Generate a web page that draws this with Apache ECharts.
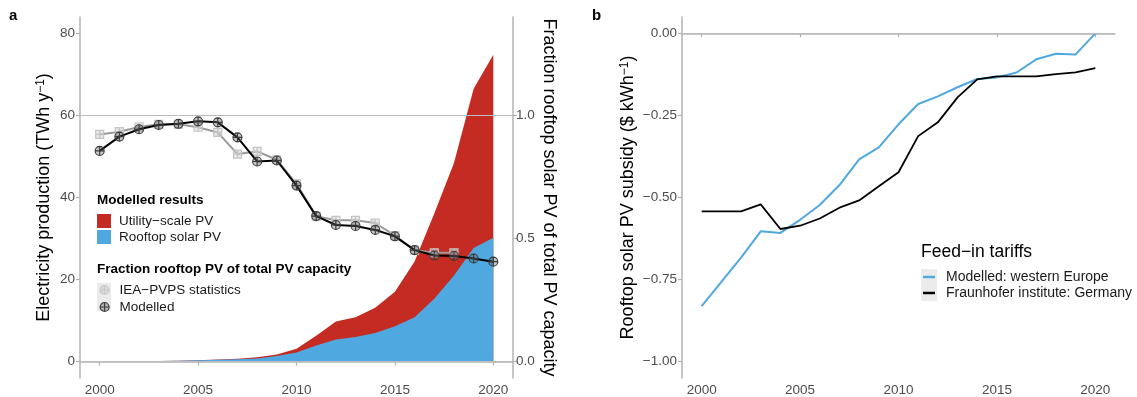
<!DOCTYPE html>
<html>
<head>
<meta charset="utf-8">
<script src="https://cdn.jsdelivr.net/npm/echarts@6/dist/echarts.min.js"></script>
<style>
html,body{margin:0;padding:0;background:#fff;}
#chart{width:1137px;height:397px;}
</style>
</head>
<body>
<div id="chart"></div>
<script>
// ---- data ----
const years = [2000,2001,2002,2003,2004,2005,2006,2007,2008,2009,2010,2011,2012,2013,2014,2015,2016,2017,2018,2019,2020];
const rooftopTWh = [0.05,0.07,0.1,0.12,0.18,0.3,0.45,0.55,0.75,1.35,2.2,3.9,5.4,6.0,7.0,8.6,10.8,15.3,21.0,27.7,30.2];
const utilityTWh = [0,0,0,0.01,0.02,0.02,0.05,0.15,0.3,0.4,0.9,2.4,4.4,4.8,6.1,8.4,13.6,20.8,27.4,38.8,44.6];
const fracIEA = [0.923,0.934,0.953,0.964,0.964,0.952,0.931,0.843,0.854,0.820,0.722,0.591,0.574,0.574,0.563,0.512,0.453,0.442,0.442,null,null];
const fracModelled = [0.856,0.914,0.944,0.961,0.966,0.976,0.972,0.911,0.813,0.817,0.715,0.591,0.555,0.551,0.535,0.509,0.453,0.431,0.429,0.419,0.406];
const subsidyModelled = [-0.831,-0.757,-0.683,-0.603,-0.608,-0.568,-0.523,-0.462,-0.384,-0.347,-0.277,-0.215,-0.192,-0.164,-0.139,-0.134,-0.119,-0.079,-0.062,-0.064,0.0];
const subsidyFraunhofer = [-0.542,-0.542,-0.542,-0.521,-0.596,-0.586,-0.564,-0.531,-0.509,-0.466,-0.423,-0.313,-0.271,-0.195,-0.140,-0.131,-0.131,-0.131,-0.124,-0.119,-0.106];
const tickYears = [2000,2005,2010,2015,2020];
const tickEnergy = [0,20,40,60,80];
const tickFraction = [0,0.5,1];
const tickSubsidy = [-1,-0.75,-0.5,-0.25,0];

// ---- helpers ----
const pairs = arr => years.map((y,i) => [y, arr[i]]);
const totalTWh = rooftopTWh.map((v,i) => v + utilityTWh[i]);
const FONT = '"Liberation Sans", Arial, Helvetica, sans-serif';
const AX = '#b3b3b3';
const RED = '#c42b22';
const BLUE = '#4fa8df';
const circlePlus = 'path://M0,-5A5,5 0 1,1 0,5A5,5 0 1,1 0,-5ZM-5,0L5,0M0,-5L0,5';
const squarePlus = 'path://M-5,-5L5,-5L5,5L-5,5ZM-5,0L5,0M0,-5L0,5';
const fmtMinus = (v, d) => (v < -1e-9 ? '\u2212' : '') + Math.abs(v).toFixed(d);

const xAxisBase = (gi) => ({
  type: 'value', gridIndex: gi, min: 1999, max: 2021,
  axisLine: {show: true, lineStyle: {color: AX, width: 1.5}},
  axisTick: {show: true, length: 4, customValues: tickYears, lineStyle: {color: AX, width: 1.2}},
  axisLabel: {customValues: tickYears, color: '#4d4d4d', fontSize: 13.5, fontFamily: FONT, margin: 5,
              formatter: v => String(Math.round(v))},
  splitLine: {show: false}
});

const nameStyle = {
  fontSize: 18, fontFamily: FONT, color: '#000',
  rich: {
    t: {fontSize: 18, fontFamily: FONT, color: '#000'},
    s: {fontSize: 12, fontFamily: FONT, color: '#000', verticalAlign: 'top', padding: [0,0,6,0]}
  }
};

const chart = echarts.init(document.getElementById('chart'), null, {renderer: 'canvas'});

const option = {
  animation: false,
  backgroundColor: '#fff',
  textStyle: {fontFamily: FONT},
  grid: [
    {left: 80, top: 17, width: 433, height: 364, containLabel: false},
    {left: 682, top: 17, width: 433, height: 364, containLabel: false}
  ],
  xAxis: [xAxisBase(0), xAxisBase(1)],
  yAxis: [
    {
      type: 'value', gridIndex: 0, position: 'left', min: -4, max: 84,
      name: '{t|Electricity production (TWh y}{s|\u22121}{t|)}',
      nameLocation: 'middle', nameGap: 27, nameRotate: 90, nameTextStyle: nameStyle,
      axisLine: {show: true, lineStyle: {color: AX, width: 1.5}},
      axisTick: {show: true, length: 4, customValues: tickEnergy, lineStyle: {color: AX, width: 1.2}},
      axisLabel: {customValues: tickEnergy, color: '#4d4d4d', fontSize: 13.5, fontFamily: FONT, margin: 5},
      splitLine: {show: false}
    },
    {
      type: 'value', gridIndex: 0, position: 'right', min: -4/60, max: 84/60,
      name: 'Fraction rooftop solar PV of total PV capacity',
      nameLocation: 'middle', nameGap: 27, nameRotate: -90,
      nameTextStyle: {fontSize: 18, fontFamily: FONT, color: '#000'},
      axisLine: {show: true, lineStyle: {color: AX, width: 1.5}},
      axisTick: {show: true, length: 4, customValues: tickFraction, lineStyle: {color: AX, width: 1.2}},
      axisLabel: {customValues: tickFraction, color: '#4d4d4d', fontSize: 13.5, fontFamily: FONT, margin: 3,
                  formatter: v => v.toFixed(1)},
      splitLine: {show: false}
    },
    {
      type: 'value', gridIndex: 1, position: 'left', min: -1.05, max: 0.05,
      name: '{t|Rooftop solar PV subsidy ($ kWh}{s|\u22121}{t|)}',
      nameLocation: 'middle', nameGap: 45, nameRotate: 90, nameTextStyle: nameStyle,
      axisLine: {show: true, lineStyle: {color: AX, width: 1.5}},
      axisTick: {show: true, length: 4, customValues: tickSubsidy, lineStyle: {color: AX, width: 1.2}},
      axisLabel: {customValues: tickSubsidy, color: '#4d4d4d', fontSize: 13.5, fontFamily: FONT, margin: 5,
                  formatter: v => fmtMinus(v, 2)},
      splitLine: {show: false}
    }
  ],
  legend: [
    {
      orient: 'vertical', left: 97, top: 213, padding: 0, itemGap: 0,
      itemWidth: 14, itemHeight: 14, icon: 'rect',
      textStyle: {fontSize: 13.5, fontFamily: FONT, color: '#1a1a1a', lineHeight: 14, padding: [2,0,0,3]},
      data: [
        {name: 'Utility\u2212scale PV', itemStyle: {color: RED}},
        {name: 'Rooftop solar PV', itemStyle: {color: BLUE}}
      ],
      selectedMode: false
    },
    {
      orient: 'vertical', left: 99.5, top: 283, padding: 0, itemGap: 3,
      itemWidth: 9, itemHeight: 9,
      textStyle: {fontSize: 13.5, fontFamily: FONT, color: '#1a1a1a', lineHeight: 9, padding: [0,0,0,5.5]},
      data: [
        {name: 'IEA\u2212PVPS statistics', icon: circlePlus,
         itemStyle: {color: 'rgba(200,200,200,0.5)', borderColor: '#c8c8c8', borderWidth: 1.2}},
        {name: 'Modelled', icon: circlePlus,
         itemStyle: {color: 'rgba(90,90,90,0.4)', borderColor: '#404040', borderWidth: 1.2}}
      ],
      selectedMode: false
    },
    {
      orient: 'vertical', left: 923, top: 269, padding: 0, itemGap: 0,
      itemWidth: 12, itemHeight: 2.5,
      textStyle: {fontSize: 14, fontFamily: FONT, color: '#1a1a1a', lineHeight: 16, padding: [0,0,0,6]},
      data: [
        {name: 'Modelled: western Europe', icon: 'rect', itemStyle: {color: BLUE, borderWidth: 0}},
        {name: 'Fraunhofer institute: Germany', icon: 'rect', itemStyle: {color: '#000', borderWidth: 0}}
      ],
      selectedMode: false
    }
  ],
  graphic: [
    {type: 'text', left: 9, top: 8, z: 10, style: {text: 'a', font: 'bold 15px ' + FONT, fill: '#000'}},
    {type: 'text', left: 592, top: 8, z: 10, style: {text: 'b', font: 'bold 15px ' + FONT, fill: '#000'}},
    {type: 'text', left: 97, top: 193, z: 10, style: {text: 'Modelled results', font: 'bold 13.5px ' + FONT, fill: '#000'}},
    {type: 'text', left: 97, top: 262, z: 10, style: {text: 'Fraction rooftop PV of total PV capacity', font: 'bold 13.5px ' + FONT, fill: '#000'}},
    {type: 'rect', left: 97, top: 283, z: 0, shape: {width: 14, height: 28}, style: {fill: '#ebebeb'}},
    {type: 'text', left: 921, top: 243, z: 10, style: {text: 'Feed\u2212in tariffs', font: '17.5px ' + FONT, fill: '#000'}},
    {type: 'rect', left: 921, top: 269, z: 0, shape: {width: 16, height: 32}, style: {fill: '#ebebeb'}}
  ],
  series: [
    {
      name: 'Utility\u2212scale PV', type: 'line', xAxisIndex: 0, yAxisIndex: 0,
      data: pairs(totalTWh), symbol: 'none', color: RED,
      lineStyle: {width: 0}, areaStyle: {color: RED, opacity: 1}, z: 1,
      markLine: {
        silent: true, symbol: 'none', label: {show: false},
        lineStyle: {color: '#bdbdbd', width: 1.2, type: 'solid'},
        data: [{yAxis: 60}, {yAxis: 0}]
      }
    },
    {
      name: 'Rooftop solar PV', type: 'line', xAxisIndex: 0, yAxisIndex: 0,
      data: pairs(rooftopTWh), symbol: 'none', color: BLUE,
      lineStyle: {width: 0}, areaStyle: {color: BLUE, opacity: 1}, z: 2
    },
    {
      name: 'IEA\u2212PVPS statistics', type: 'line', xAxisIndex: 0, yAxisIndex: 1,
      data: pairs(fracIEA), color: '#9a9a9a',
      lineStyle: {color: '#9a9a9a', width: 2}, symbol: squarePlus, symbolSize: 8,
      itemStyle: {color: 'rgba(210,210,210,0.5)', borderColor: '#c4c4c4', borderWidth: 1.2}, z: 3
    },
    {
      name: 'Modelled', type: 'line', xAxisIndex: 0, yAxisIndex: 1,
      data: pairs(fracModelled), color: '#000',
      lineStyle: {color: '#000', width: 2}, symbol: circlePlus, symbolSize: 9,
      itemStyle: {color: 'rgba(90,90,90,0.35)', borderColor: '#3a3a3a', borderWidth: 1.1}, z: 4
    },
    {
      name: 'Modelled: western Europe', type: 'line', xAxisIndex: 1, yAxisIndex: 2,
      data: pairs(subsidyModelled), symbol: 'none', color: BLUE,
      lineStyle: {color: BLUE, width: 2},
      markLine: {
        silent: true, symbol: 'none', label: {show: false},
        lineStyle: {color: '#bdbdbd', width: 1.2, type: 'solid'},
        data: [{yAxis: 0}]
      }
    },
    {
      name: 'Fraunhofer institute: Germany', type: 'line', xAxisIndex: 1, yAxisIndex: 2,
      data: pairs(subsidyFraunhofer), symbol: 'none', color: '#000',
      lineStyle: {color: '#000', width: 1.8}
    }
  ]
};
chart.setOption(option);
</script>
</body>
</html>
